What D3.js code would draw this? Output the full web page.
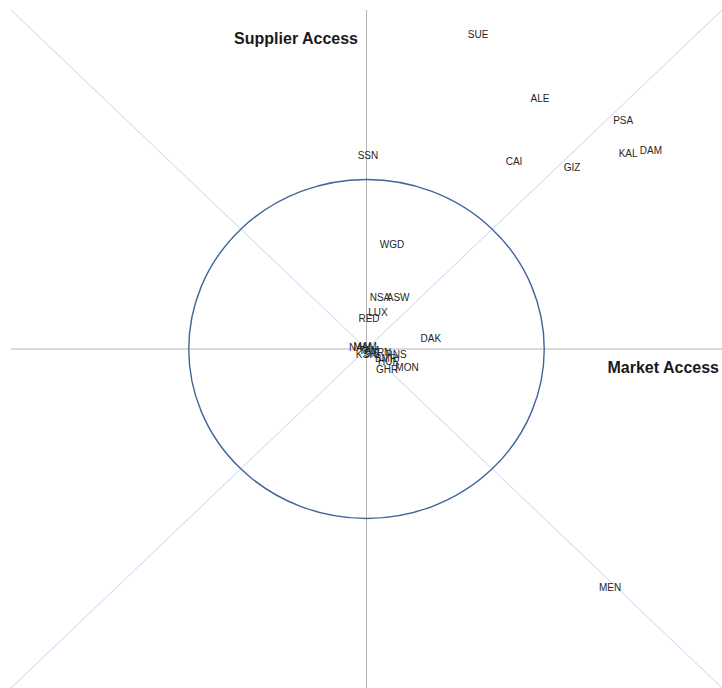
<!DOCTYPE html>
<html>
  <head>
    <meta charset="utf-8" />
    <script src="https://d3js.org/d3.v7.min.js"></script>
    <style>
      body {
        margin: 0;
        background: #fff;
      }
      .lbl {
        font-family: "Liberation Sans", Arial, sans-serif;
        font-size: 10px;
        fill: #262626;
      }
      .title {
        font-family: "Liberation Sans", Arial, sans-serif;
        font-size: 16px;
        font-weight: bold;
        fill: #1a1a1a;
      }
    </style>
  </head>
  <body>
    <svg id="chart" width="722" height="688"></svg>
    <script>
      // point codes and their positions (market access, supplier access)
      const codes = [
        "SUE", "ALE", "PSA", "KAL", "DAM", "CAI", "GIZ", "SSN", "WGD",
        "NSA", "ASW", "LUX", "RED", "DAK", "MEN",
        "NAM", "MAM", "TAM", "KSH", "SIS", "TRN", "RNS", "BMR", "HUR",
        "GHR", "MON"
      ];
      const marketAccess = [
        0.314, 0.488, 0.722, 0.736, 0.8, 0.415, 0.578, 0.004, 0.072,
        0.038, 0.089, 0.032, 0.007, 0.181, 0.685,
        -0.018, -0.004, 0.007, -0.001, 0.015, 0.041, 0.083, 0.055, 0.063,
        0.058, 0.114
      ];
      const supplierAccess = [
        0.929, 0.74, 0.673, 0.578, 0.587, 0.552, 0.534, 0.572, 0.307,
        0.153, 0.153, 0.109, 0.091, 0.032, -0.705,
        0.003, 0.006, -0.003, -0.015, -0.012, -0.009, -0.015, -0.027, -0.038,
        -0.059, -0.056
      ];
      const circleRadius = 0.5;
      const axisLabels = ["Market Access", "Supplier Access"];

      const svg = d3.select("#chart");
      const x = d3.scaleLinear().domain([-1, 1]).range([11, 722]);
      const y = d3.scaleLinear().domain([-1, 1]).range([688, 10]);

      const points = codes.map((c, i) => ({
        code: c,
        mx: marketAccess[i],
        sy: supplierAccess[i],
      }));

      // diagonals corner to corner
      const diagonals = [
        [[-1, 1], [1, -1]],
        [[-1, -1], [1, 1]],
      ];
      svg
        .selectAll("line.diag")
        .data(diagonals)
        .join("line")
        .attr("class", "diag")
        .attr("x1", (d) => x(d[0][0]))
        .attr("y1", (d) => y(d[0][1]))
        .attr("x2", (d) => x(d[1][0]))
        .attr("y2", (d) => y(d[1][1]))
        .attr("stroke", "#c5d5ea")
        .attr("stroke-width", 1);

      // axes through zero
      svg
        .append("line")
        .attr("x1", x(-1))
        .attr("x2", x(1))
        .attr("y1", y(0))
        .attr("y2", y(0))
        .attr("stroke", "#b3b3b3")
        .attr("stroke-width", 1);
      svg
        .append("line")
        .attr("x1", x(0))
        .attr("x2", x(0))
        .attr("y1", y(1))
        .attr("y2", y(-1))
        .attr("stroke", "#b3b3b3")
        .attr("stroke-width", 1);

      // circle of radius 0.5
      svg
        .append("ellipse")
        .attr("cx", x(0))
        .attr("cy", y(0))
        .attr("rx", x(circleRadius) - x(0))
        .attr("ry", y(0) - y(circleRadius))
        .attr("fill", "none")
        .attr("stroke", "#41659a")
        .attr("stroke-width", 1.4);

      // data labels centred on each point
      svg
        .selectAll("text.lbl")
        .data(points)
        .join("text")
        .attr("class", "lbl")
        .attr("x", (d) => x(d.mx))
        .attr("y", (d) => y(d.sy))
        .attr("text-anchor", "middle")
        .attr("dominant-baseline", "central")
        .text((d) => d.code);

      // axis titles
      svg
        .append("text")
        .attr("class", "title")
        .attr("x", 719)
        .attr("y", 373)
        .attr("text-anchor", "end")
        .text(axisLabels[0]);
      svg
        .append("text")
        .attr("class", "title")
        .attr("x", 358)
        .attr("y", 44)
        .attr("text-anchor", "end")
        .text(axisLabels[1]);
    </script>
  </body>
</html>
